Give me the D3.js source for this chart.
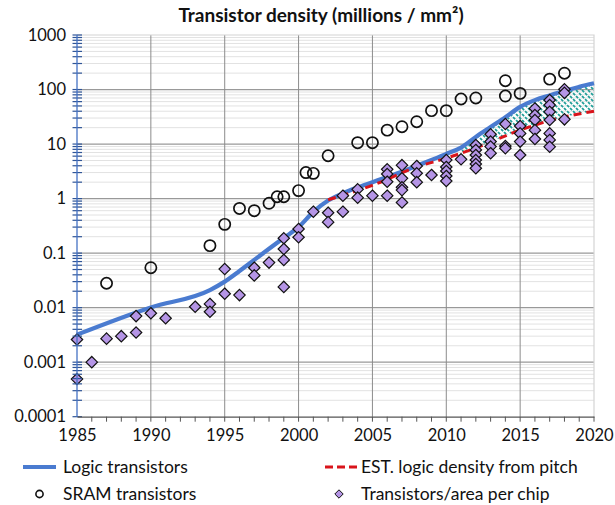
<!DOCTYPE html>
<html>
<head>
<meta charset="utf-8">
<script src="https://cdn.jsdelivr.net/npm/d3@7"></script>
<style>
  html, body { margin: 0; padding: 0; background: #fff; }
  svg { display: block; font-family: Lato, "Open Sans", sans-serif; }
</style>
</head>
<body>
<svg id="chart" width="615" height="505"></svg>
<script>
// Logic transistor density (millions / mm²)
const logicYears   = [1985, 1990, 1994, 1995, 1996, 1997, 1998, 1999, 2000, 2001, 2002, 2003, 2004, 2005, 2006, 2007, 2008, 2009, 2010, 2011, 2012, 2013, 2014, 2015, 2016, 2017, 2018, 2019, 2020];
const logicDensity = [0.0032, 0.0101, 0.021, 0.03, 0.047, 0.075, 0.12, 0.19, 0.3, 0.57, 0.92, 1.25, 1.6, 2.0, 2.5, 3.1, 4.0, 5.1, 6.6, 8.6, 13.5, 20.5, 31, 48, 64, 78, 95, 112, 130];

// Estimated logic density derived from pitch
const pitchYears   = [2002, 2005, 2008, 2010, 2012, 2015, 2017, 2020];
const pitchDensity = [0.95, 1.75, 3.8, 5.5, 8.5, 18, 27, 40];

// SRAM transistor density
const sramYears   = [1987, 1990, 1994, 1995, 1996, 1997, 1998, 1998.55, 1999, 2000, 2000.5, 2001, 2002, 2004, 2005, 2006, 2007, 2008, 2009, 2010, 2011, 2012, 2014, 2014, 2015, 2017, 2018];
const sramDensity = [0.028, 0.054, 0.137, 0.337, 0.66, 0.6, 0.82, 1.08, 1.08, 1.4, 3.0, 2.9, 6.1, 10.6, 10.6, 18, 20.8, 25.7, 41, 41, 67, 70, 145, 76, 85, 155, 199];

// Transistors / area for individual chips
const chipYears = [
  1985, 1985, 1986, 1987, 1988, 1989, 1989, 1990, 1991, 1993, 1994, 1994,
  1995, 1995, 1996, 1997, 1997, 1998, 1999, 1999, 1999, 1999, 2000, 2000,
  2001, 2002, 2002, 2003, 2003, 2004, 2004, 2005,
  2006, 2006, 2006, 2006, 2007, 2007, 2007, 2007, 2007, 2008, 2008, 2008, 2009,
  2010, 2010, 2010, 2010, 2010, 2011, 2012, 2012, 2012, 2012, 2012, 2012,
  2013, 2013, 2013, 2013, 2014, 2014, 2014, 2015, 2015, 2015, 2015,
  2016, 2016, 2016, 2016, 2016, 2017, 2017, 2017, 2017, 2017, 2017, 2017,
  2018, 2018, 2018
];
const chipDensity = [
  0.0026, 0.00049, 0.001, 0.0027, 0.003, 0.0035, 0.007, 0.0079, 0.0064, 0.0104, 0.0117, 0.0084,
  0.051, 0.018, 0.017, 0.054, 0.039, 0.067, 0.187, 0.119, 0.075, 0.024, 0.277, 0.195,
  0.575, 0.55, 0.37, 1.13, 0.575, 1.48, 1.04, 1.13,
  3.44, 2.82, 2.04, 1.13, 4.1, 2.35, 1.61, 1.43, 0.85, 3.96, 2.91, 2.0, 2.71,
  5.1, 3.8, 3.2, 2.6, 2.1, 5.25, 9.6, 7.8, 6.3, 5.1, 4.3, 3.6,
  15.1, 11.1, 9.0, 6.8, 23.3, 9.2, 8.4, 21.4, 15.7, 11.1, 6.3,
  45, 34, 27.6, 18, 12.4, 64, 52, 39, 27.6, 15.7, 11.9, 8.9,
  101, 87, 28.4
];

const yTickValues = [1000, 100, 10, 1, 0.1, 0.01, 0.001, 0.0001];
const yTickLabels = ["1000", "100", "10", "1", "0.1", "0.01", "0.001", "0.0001"];
const xTickValues = [1985, 1990, 1995, 2000, 2005, 2010, 2015, 2020];

const titleText = "Transistor density (millions / mm²)";
const legendItems = ["Logic transistors", "EST. logic density from pitch", "SRAM transistors", "Transistors/area per chip"];

const svg = d3.select("#chart");
const plotLeft = 77, plotRight = 594, plotTop = 35, plotBottom = 416.7;

const x = d3.scaleLinear().domain([1985, 2020]).range([plotLeft, plotRight]);
const y = d3.scaleLog().domain([0.0001, 1000]).range([plotBottom, plotTop]);

const zip = (xs, vs) => xs.map((d, i) => [d, vs[i]]);
const logicData = zip(logicYears, logicDensity);
const pitchData = zip(pitchYears, pitchDensity);
const sramData  = zip(sramYears, sramDensity);
const chipData  = zip(chipYears, chipDensity);

const defs = svg.append("defs");

// teal dashed diagonal hatch
const pat = defs.append("pattern")
  .attr("id", "hatch").attr("patternUnits", "userSpaceOnUse")
  .attr("width", 6).attr("height", 6);
[[0, 0, 6, 6], [-3, 3, 3, 9], [3, -3, 9, 3]].forEach(s => {
  pat.append("line").attr("x1", s[0]).attr("y1", s[1]).attr("x2", s[2]).attr("y2", s[3])
    .attr("stroke", "#1f9e98").attr("stroke-width", 1.7).attr("stroke-dasharray", "3,1.3");
});

// minor horizontal grid
const minorVals = [];
for (let e = -4; e < 3; e++) for (let m = 2; m <= 9; m++) minorVals.push(m * Math.pow(10, e));
svg.append("g").selectAll("line").data(minorVals).join("line")
  .attr("x1", plotLeft).attr("x2", plotRight)
  .attr("y1", d => y(d)).attr("y2", d => y(d))
  .attr("stroke", "#e2e2e2").attr("stroke-width", 1);

// major horizontal grid
svg.append("g").selectAll("line").data(yTickValues.slice(1, -1)).join("line")
  .attr("x1", plotLeft).attr("x2", plotRight)
  .attr("y1", d => y(d)).attr("y2", d => y(d))
  .attr("stroke", "#999").attr("stroke-width", 1.2);

// vertical grid
svg.append("g").selectAll("line").data(xTickValues.slice(1, -1)).join("line")
  .attr("x1", d => x(d)).attr("x2", d => x(d))
  .attr("y1", plotTop).attr("y2", plotBottom)
  .attr("stroke", "#8c8c8c").attr("stroke-width", 1);

// plot frame (top/right)
svg.append("path")
  .attr("d", `M${plotLeft},${plotTop}H${plotRight}V${plotBottom}`)
  .attr("fill", "none").attr("stroke", "#d4d4d4").attr("stroke-width", 1.2);

const lineGen = d3.line().x(d => x(d[0])).y(d => y(d[1])).curve(d3.curveMonotoneX);
const logicPath = lineGen(logicData);
const pitchPath = lineGen(pitchData);

// hatched gap between logic and pitch estimates
defs.append("clipPath").attr("id", "underLogic")
  .append("path").attr("d", logicPath + `L${x(2020)},${plotBottom}L${x(1985)},${plotBottom}Z`);
defs.append("clipPath").attr("id", "abovePitch")
  .append("path").attr("d", pitchPath + `L${x(2020)},${plotTop}L${x(2002)},${plotTop}Z`);
svg.append("g").attr("clip-path", "url(#underLogic)")
  .append("g").attr("clip-path", "url(#abovePitch)")
  .append("rect")
  .attr("x", x(2011)).attr("y", plotTop).attr("width", x(2020) - x(2011)).attr("height", plotBottom - plotTop)
  .attr("fill", "url(#hatch)");

// logic line
svg.append("path").attr("d", logicPath)
  .attr("fill", "none").attr("stroke", "#4a7bd0").attr("stroke-width", 4.2)
  .attr("stroke-linejoin", "round");

// pitch estimate line
svg.append("path").attr("d", pitchPath)
  .attr("fill", "none").attr("stroke", "#d9141b").attr("stroke-width", 3)
  .attr("stroke-dasharray", "8,5");

// SRAM circles
svg.append("g").selectAll("circle").data(sramData).join("circle")
  .attr("cx", d => x(d[0])).attr("cy", d => y(d[1])).attr("r", 5.6)
  .attr("fill", "none").attr("stroke", "#111").attr("stroke-width", 1.7);

// chip diamonds
const diamond = s => `M0,${-s}L${s},0L0,${s}L${-s},0Z`;
svg.append("g").selectAll("path").data(chipData).join("path")
  .attr("transform", d => `translate(${x(d[0])},${y(d[1])})`)
  .attr("d", diamond(5.7))
  .attr("fill", "#b595e6").attr("stroke", "#111").attr("stroke-width", 1.2);

// left axis (log) in blue, ticks crossing the axis
const yAxisG = svg.append("g");
yAxisG.selectAll("line.tk").data(minorVals.concat(yTickValues)).join("line")
  .attr("class", "tk")
  .attr("x1", plotLeft - 4.5).attr("x2", plotLeft + 5)
  .attr("y1", d => y(d)).attr("y2", d => y(d))
  .attr("stroke", "#2f5597").attr("stroke-width", 1.2);
yAxisG.append("line").attr("x1", plotLeft).attr("x2", plotLeft).attr("y1", plotTop).attr("y2", plotBottom)
  .attr("stroke", "#4472c4").attr("stroke-width", 1.3);
yAxisG.selectAll("text").data(yTickValues).join("text")
  .attr("x", plotLeft - 11).attr("y", d => y(d)).attr("dy", "0.35em")
  .attr("text-anchor", "end").attr("font-size", 16.5).attr("fill", "#111")
  .text((d, i) => yTickLabels[i]);

// bottom axis with yearly ticks
const xAxis = d3.axisBottom(x).tickValues(xTickValues).tickSize(0).tickPadding(13).tickFormat(d3.format("d"));
const xAxisG = svg.append("g").attr("transform", `translate(0,${plotBottom})`).call(xAxis);
xAxisG.select(".domain").attr("stroke", "#555").attr("stroke-width", 1.2);
xAxisG.selectAll("text").attr("font-size", 16.5).attr("fill", "#111").attr("font-family", "Lato, 'Open Sans', sans-serif");
xAxisG.append("g").selectAll("line").data(d3.range(1986, 2021)).join("line")
  .attr("x1", d => x(d)).attr("x2", d => x(d)).attr("y1", 0).attr("y2", 5)
  .attr("stroke", "#555").attr("stroke-width", 1);

// title
svg.append("text").attr("x", 321).attr("y", 22).attr("text-anchor", "middle")
  .attr("font-size", 19).attr("font-weight", "bold").attr("fill", "#111")
  .text(titleText);

// legend
const lg = svg.append("g").attr("font-size", 17.5).attr("fill", "#111");
lg.append("line").attr("x1", 23).attr("x2", 56).attr("y1", 467).attr("y2", 467)
  .attr("stroke", "#4a7bd0").attr("stroke-width", 4.2);
lg.append("text").attr("x", 63).attr("y", 467).attr("dy", "0.35em").text(legendItems[0]);
lg.append("line").attr("x1", 325).attr("x2", 357).attr("y1", 467).attr("y2", 467)
  .attr("stroke", "#d9141b").attr("stroke-width", 3).attr("stroke-dasharray", "8,4");
lg.append("text").attr("x", 361).attr("y", 467).attr("dy", "0.35em").text(legendItems[1]);
lg.append("circle").attr("cx", 39.5).attr("cy", 494).attr("r", 3.6)
  .attr("fill", "none").attr("stroke", "#111").attr("stroke-width", 1.6);
lg.append("text").attr("x", 63).attr("y", 494).attr("dy", "0.35em").text(legendItems[2]);
lg.append("path").attr("transform", "translate(339,494)").attr("d", diamond(4.2))
  .attr("fill", "#b595e6").attr("stroke", "#111").attr("stroke-width", 1);
lg.append("text").attr("x", 361).attr("y", 494).attr("dy", "0.35em").text(legendItems[3]);
</script>
</body>
</html>
